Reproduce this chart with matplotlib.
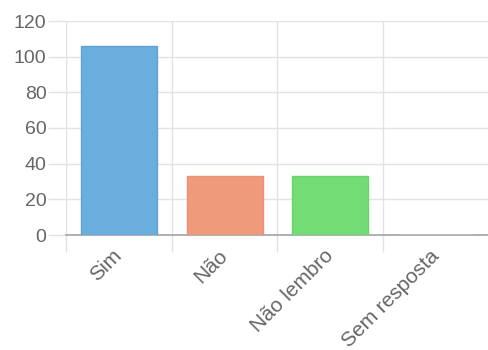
import matplotlib.pyplot as plt
import numpy as np

categories = ["Sim", "Não", "Não lembro", "Sem resposta"]
values = [106, 33, 33, 0]
colors = ["#6aaedd", "#f09a7c", "#74dc74", "#dddddd"]
edges = ["#5fa3d6", "#e8907a", "#6ad46a", "#dddddd"]
yticks = [0, 20, 40, 60, 80, 100, 120]

plt.rcParams['font.family'] = ['Liberation Sans', 'DejaVu Sans']

fig = plt.figure(figsize=(4.89, 3.5), dpi=100)
ax = fig.add_axes([66/489, 115/350, (489-66)/489, 214/350])

x = np.arange(len(categories))
ax.bar(x, values, width=0.72, color=colors, edgecolor=edges, linewidth=1, zorder=3)

ax.set_xlim(-0.5, len(categories) - 0.5)
ax.set_ylim(0, 120)
ax.set_yticks(yticks)
ax.set_xticks(x)
ax.set_xticklabels(categories, rotation=45, ha='right', va='center', rotation_mode='anchor')
ax.set_xticks(np.arange(-0.5, len(categories)), minor=True)

grid_c = "#e3e3e3"
ax.grid(axis='y', color=grid_c, linewidth=1, zorder=0)
ax.grid(axis='x', which='minor', color=grid_c, linewidth=1, zorder=0)
ax.tick_params(axis='x', which='major', length=0, pad=13, labelsize=15, labelcolor="#666666")
ax.tick_params(axis='x', which='minor', length=12.5, color=grid_c, width=1)
ax.tick_params(axis='y', length=13, pad=1, color=grid_c, width=1, labelsize=14, labelcolor="#666666")

for s in ['top', 'right']:
    ax.spines[s].set_visible(False)
ax.spines['left'].set_color(grid_c)
ax.spines['bottom'].set_color("#aaaaaa")
ax.spines['bottom'].set_linewidth(1.3)

fig.savefig("out.png", dpi=100)
